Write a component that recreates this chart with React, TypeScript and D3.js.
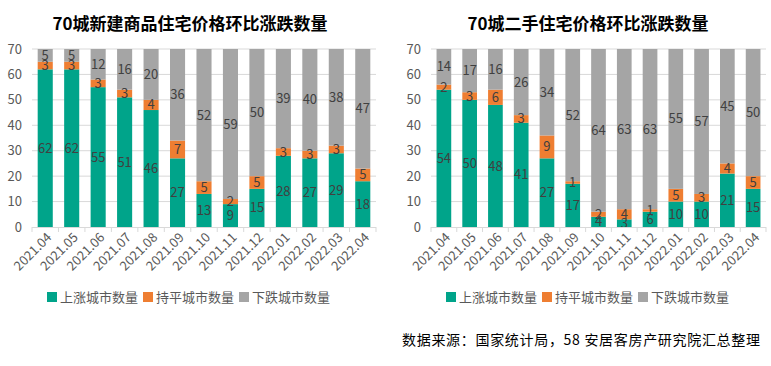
import * as d3 from "d3";

const months = [
  "2021.04", "2021.05", "2021.06", "2021.07", "2021.08", "2021.09", "2021.10",
  "2021.11", "2021.12", "2022.01", "2022.02", "2022.03", "2022.04",
];
const seriesNames = ["上涨城市数量", "持平城市数量", "下跌城市数量"];
const colors = ["#00A48A", "#EE7E32", "#A5A5A5"];

// 新建商品住宅
const newUp = [62, 62, 55, 51, 46, 27, 13, 9, 15, 28, 27, 29, 18];
const newFlat = [3, 3, 3, 3, 4, 7, 5, 2, 5, 3, 3, 3, 5];
const newDown = [5, 5, 12, 16, 20, 36, 52, 59, 50, 39, 40, 38, 47];

// 二手住宅
const usedUp = [54, 50, 48, 41, 27, 17, 4, 3, 6, 10, 10, 21, 15];
const usedFlat = [2, 3, 6, 3, 9, 1, 2, 4, 1, 5, 3, 4, 5];
const usedDown = [14, 17, 16, 26, 34, 52, 64, 63, 63, 55, 57, 45, 50];

const yTicks = [0, 10, 20, 30, 40, 50, 60, 70];
const FONT = "'Noto Sans CJK SC', 'Noto Sans', sans-serif";

type PanelProps = {
  title: string;
  titleX: number;
  up: number[];
  flat: number[];
  down: number[];
  x0: number;
  x1: number;
  legendX: number;
};

const Panel = ({ title, titleX, up, flat, down, x0, x1, legendX }: PanelProps) => {
  const top = 49;
  const bottom = 227;
  const x = d3.scaleBand().domain(months).range([x0, x1]).paddingInner(0.43).paddingOuter(0.215);
  const y = d3.scaleLinear().domain([0, 70]).range([bottom, top]);

  const rows = months.map((m, i) => ({ month: m, up: up[i], flat: flat[i], down: down[i] }));
  const stack = d3.stack<any>().keys(["up", "flat", "down"])(rows);
  const step = (x1 - x0) / months.length;

  return (
    <g>
      <text x={titleX} y={30} textAnchor="middle" fontSize={17} fontWeight="bold" fill="#000">
        {title}
      </text>
      {yTicks.map((t) => (
        <g key={t}>
          {t > 0 && <line x1={x0} x2={x1} y1={y(t)} y2={y(t)} stroke="#D9D9D9" strokeWidth={1} />}
          <text x={x0 - 10} y={y(t)} dy="0.35em" textAnchor="end" fontSize={13} fill="#595959">
            {t}
          </text>
        </g>
      ))}
      {stack.map((s, si) =>
        s.map((d, i) => (
          <rect
            key={si + "-" + i}
            x={x(months[i])}
            y={y(d[1])}
            width={x.bandwidth()}
            height={y(d[0]) - y(d[1])}
            fill={colors[si]}
          />
        ))
      )}
      {stack.map((s, si) =>
        s.map((d, i) => (
          <text
            key={"l" + si + "-" + i}
            x={(x(months[i]) ?? 0) + x.bandwidth() / 2}
            y={y((d[0] + d[1]) / 2)}
            dy="0.35em"
            textAnchor="middle"
            fontSize={13}
            fill="#404040"
          >
            {d[1] - d[0]}
          </text>
        ))
      )}
      <line x1={x0} x2={x1} y1={bottom + 0.5} y2={bottom + 0.5} stroke="#D9D9D9" />
      {d3.range(months.length + 1).map((i) => (
        <line
          key={"t" + i}
          x1={x0 + i * step}
          x2={x0 + i * step}
          y1={bottom}
          y2={bottom + 5}
          stroke="#D9D9D9"
        />
      ))}
      {months.map((m) => (
        <text
          key={"x" + m}
          transform={`translate(${(x(m) ?? 0) + x.bandwidth() / 2 + 4},${bottom + 8}) rotate(-45)`}
          textAnchor="end"
          dy="0.35em"
          fontSize={13}
          fill="#595959"
        >
          {m}
        </text>
      ))}
      {seriesNames.map((n, i) => (
        <g key={n} transform={`translate(${legendX + i * 96},292)`}>
          <rect x={0} y={0} width={10} height={10} fill={colors[i]} />
          <text x={13} y={5} dy="0.35em" fontSize={13} fill="#595959">
            {n}
          </text>
        </g>
      ))}
    </g>
  );
};

export default function App() {
  return (
    <svg
      width={771}
      height={366}
      style={{ position: "absolute", left: 0, top: 0, background: "#fff" }}
      fontFamily={FONT}
    >
      <Panel title="70城新建商品住宅价格环比涨跌数量" titleX={190} up={newUp} flat={newFlat} down={newDown} x0={32} x1={376} legendX={47} />
      <Panel title="70城二手住宅价格环比涨跌数量" titleX={588} up={usedUp} flat={usedFlat} down={usedDown} x0={431} x1={766} legendX={446} />
      <text x={402} y={345} fontSize={14} fill="#000" textLength={358} lengthAdjust="spacing">
        数据来源：国家统计局，58 安居客房产研究院汇总整理
      </text>
    </svg>
  );
}
